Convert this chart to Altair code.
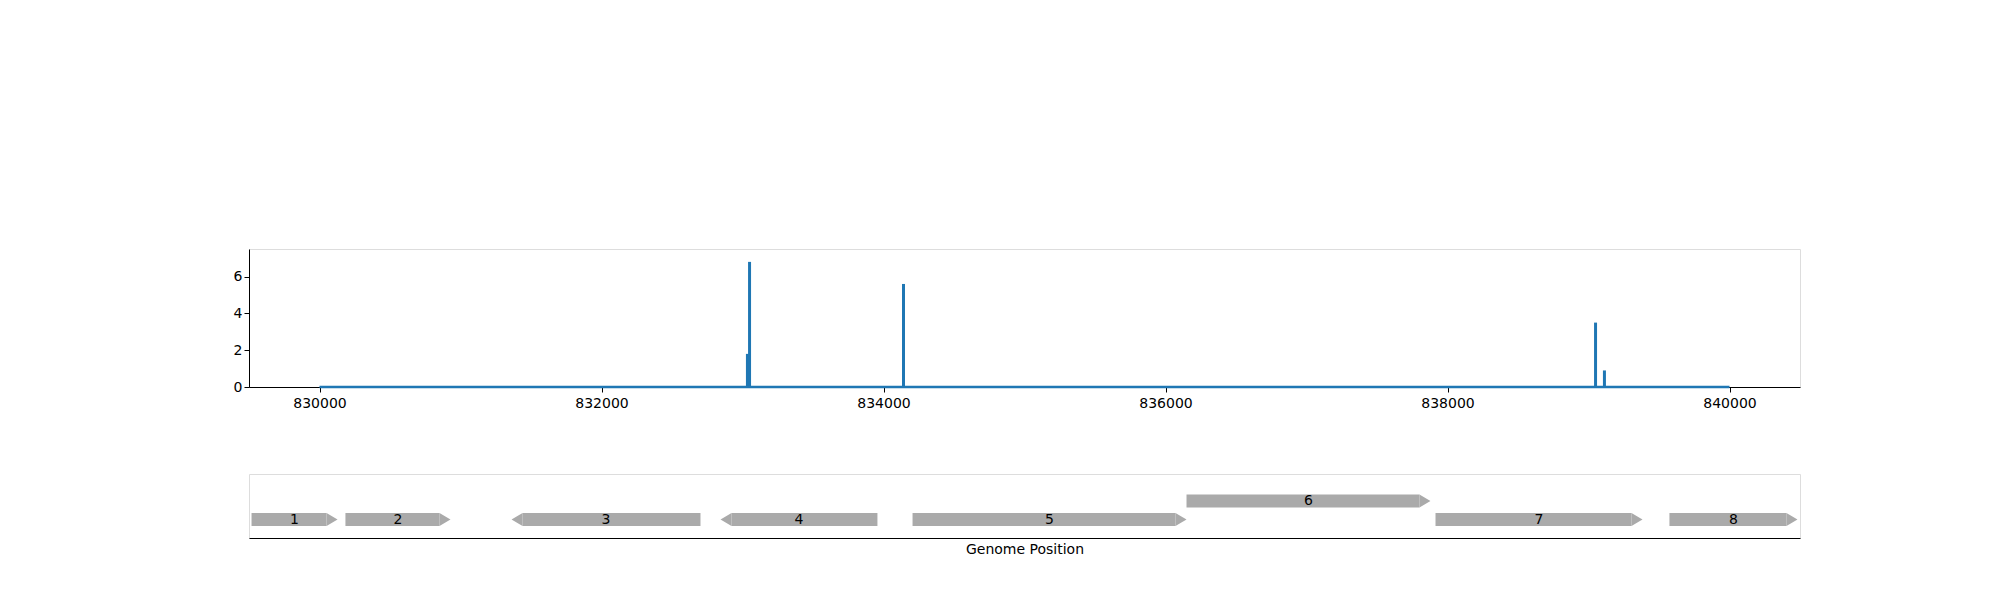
import pandas as pd
import altair as alt

# coverage spikes
spike_pos = [833035, 833050, 834142, 839050, 839113]
spike_val = [1.8, 6.8, 5.6, 3.5, 0.9]
cov_start, cov_end = 830000, 840000

# genes
gene_label = ["1", "2", "3", "4", "5", "6", "7", "8"]
gene_start = [829518, 830184, 831362, 832844, 834206, 836149, 837915, 839574]
gene_end = [830128, 830929, 832702, 833957, 836149, 837879, 839383, 840482]
gene_strand = ["+", "+", "-", "-", "+", "+", "+", "+"]
gene_lane = [0, 0, 0, 0, 0, 1, 0, 0]

HEAD = 78  # arrow head length in bp
XDOM = [829500, 840500]
FONT = "DejaVu Sans"

spikes = pd.DataFrame({"pos": spike_pos, "val": spike_val})
base = pd.DataFrame({"s": [cov_start], "e": [cov_end], "v": [0]})
genes = pd.DataFrame({"label": gene_label, "start": gene_start, "end": gene_end,
                      "strand": gene_strand, "lane": gene_lane})

xs = alt.Scale(domain=XDOM, nice=False, zero=False)
ys = alt.Scale(domain=[0, 7.5], nice=False)

baseline = alt.Chart(base).mark_rule(color="#1f77b4", strokeWidth=2.5).encode(
    x=alt.X("s:Q", scale=xs, title=None,
            axis=alt.Axis(values=list(range(830000, 840001, 2000)), format="d",
                          grid=False, labelFontSize=14, labelColor="black",
                          tickColor="black", domainColor="black", labelPadding=4)),
    x2="e:Q",
    y=alt.Y("v:Q", scale=ys, title=None,
            axis=alt.Axis(values=[0, 2, 4, 6], grid=False, labelFontSize=14,
                          labelColor="black", tickColor="black", domainColor="black")),
)
spk = alt.Chart(spikes).mark_rule(color="#1f77b4", strokeWidth=3).encode(
    x=alt.X("pos:Q", scale=xs),
    y=alt.Y("val:Q", scale=ys),
    y2=alt.datum(0),
)
top = alt.layer(baseline, spk).properties(width=1551, height=138)

gys = alt.Scale(domain=[-1, 2.46], nice=False, zero=False)
gx = alt.X("bs:Q", scale=xs, title="Genome Position",
           axis=alt.Axis(ticks=False, labels=False, grid=False, domainColor="black",
                         titleFontSize=14, titleFontWeight="normal", titleColor="black",
                         titlePadding=4))
gb = alt.Chart(genes).transform_calculate(
    bs=f"datum.strand == '+' ? datum.start : datum.start + {HEAD}",
    be=f"datum.strand == '+' ? datum.end - {HEAD} : datum.end",
    y1="datum.lane - 0.35", y2="datum.lane + 0.35",
    hx=f"datum.strand == '+' ? datum.end - {HEAD}/2 : datum.start + {HEAD}/2",
    mid="(datum.start + datum.end) / 2",
)
body = gb.mark_rect(color="#aaaaaa").encode(
    x=gx, x2="be:Q",
    y=alt.Y("y1:Q", scale=gys, axis=None), y2="y2:Q",
)
head_f = gb.transform_filter("datum.strand == '+'").mark_point(
    shape="M-1,-1.2L1,0L-1,1.2Z", filled=True, color="#aaaaaa", opacity=1, size=121
).encode(x=alt.X("hx:Q", scale=xs), y=alt.Y("lane:Q", scale=gys))
head_r = gb.transform_filter("datum.strand == '-'").mark_point(
    shape="M1,-1.2L-1,0L1,1.2Z", filled=True, color="#aaaaaa", opacity=1, size=121
).encode(x=alt.X("hx:Q", scale=xs), y=alt.Y("lane:Q", scale=gys))
txt = gb.mark_text(font=FONT, fontSize=14, color="black").encode(
    x=alt.X("mid:Q", scale=xs), y=alt.Y("lane:Q", scale=gys), text="label:N"
)
bottom = alt.layer(body, head_f, head_r, txt).properties(width=1551, height=64)

chart = alt.vconcat(top, bottom, spacing=62).properties(
    padding={"top": 240, "left": 224, "right": 10, "bottom": 10}
).configure_view(stroke=None).configure(font=FONT)

chart.save("out.html", embed_options={"renderer": "svg", "actions": False})
